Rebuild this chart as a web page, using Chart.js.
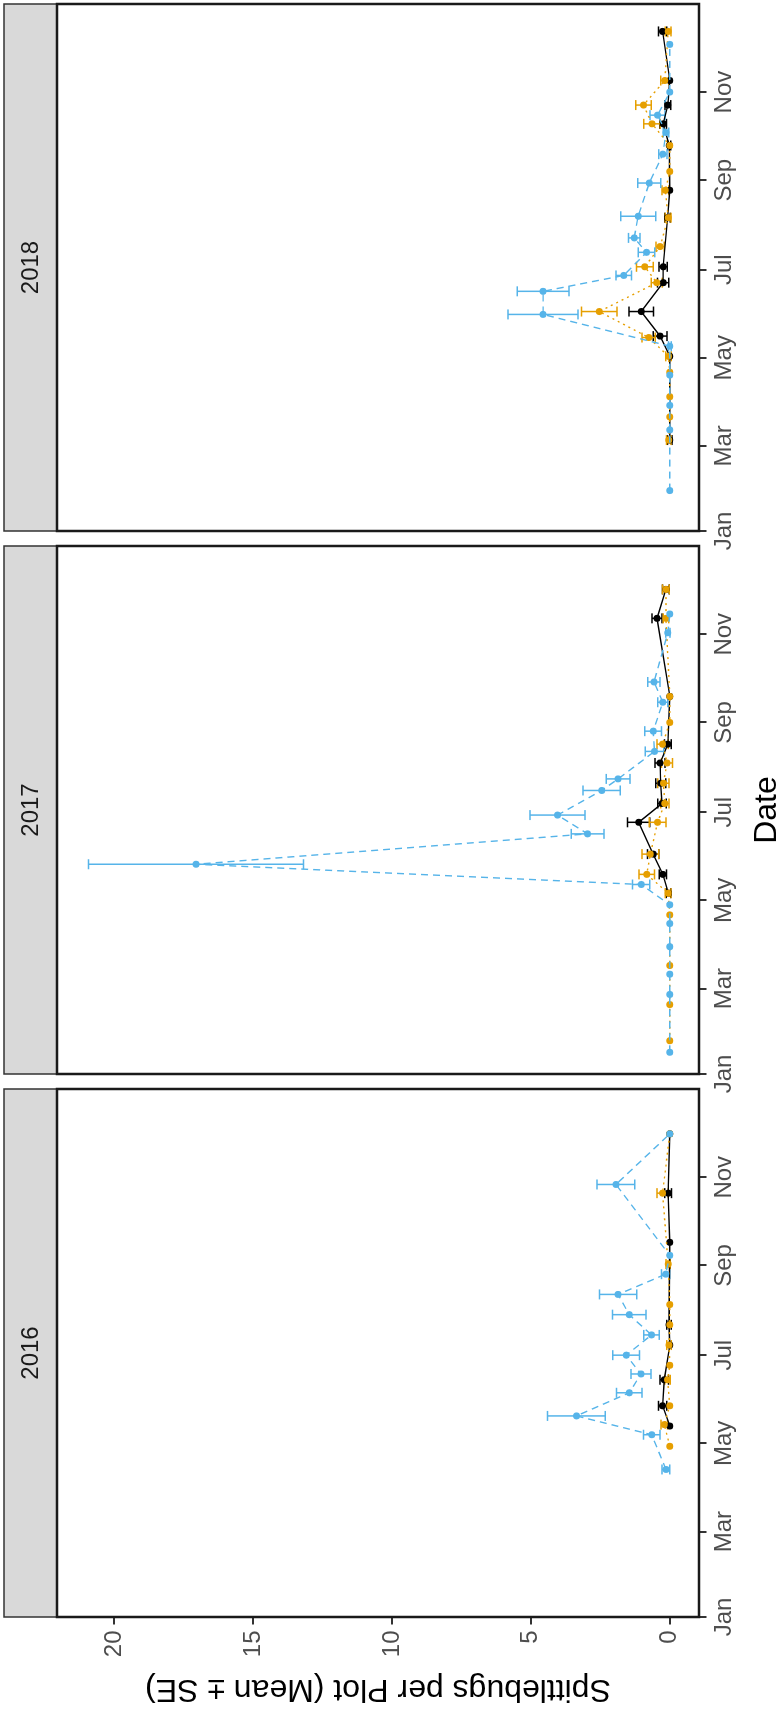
<!DOCTYPE html>
<html lang="en">
<head>
<meta charset="UTF-8">
<title>Spittlebugs per Plot 2016-2018</title>
<style>
  html, body { margin: 0; padding: 0; background: #fff; overflow: hidden; }
  body { width: 781px; height: 1711px; position: relative; }
  /* the figure is laid out landscape and turned a quarter turn */
  #plot {
    position: absolute; left: 0; top: 0;
    width: 1711px; height: 781px;
    transform-origin: 0 0;
    transform: translate(0, 1711px) rotate(-90deg);
  }
  #plot canvas { position: absolute; left: 0; top: 0; }
</style>
<script src="https://cdn.jsdelivr.net/npm/chart.js"></script>
</head>
<body>
<div id="plot">
  <canvas id="c2016" width="1711" height="781"></canvas>
  <canvas id="c2017" width="1711" height="781"></canvas>
  <canvas id="c2018" width="1711" height="781"></canvas>
</div>
<script>
// x values are day of year (0 = Jan 1)
const monthDays = [0, 59, 120, 181, 243, 304];
const monthLabels = ['Jan', 'Mar', 'May', 'Jul', 'Sep', 'Nov'];
const yTicks = [0, 5, 10, 15, 20];
const years = ['2016', '2017', '2018'];

// 2016
const day16Blue = [102, 126, 139, 155, 168, 181, 195, 209, 223, 237, 250, 299, 334];
const mean16Blue = [0.14, 0.65, 3.36, 1.46, 1.04, 1.57, 0.66, 1.46, 1.86, 0.15, 0, 1.94, 0];
const se16Blue = [0.14, 0.3, 1.04, 0.46, 0.36, 0.48, 0.28, 0.6, 0.67, 0.15, 0, 0.68, 0];
const day16Orange = [118, 133, 146, 164, 174, 188, 202, 216, 244, 293, 334];
const mean16Orange = [0, 0.2, 0, 0.08, 0, 0.03, 0, 0, 0.06, 0.26, 0];
const se16Orange = [0, 0.12, 0, 0.1, 0, 0.08, 0, 0, 0.08, 0.2, 0];
const day16Black = [132, 146, 164, 188, 202, 259, 293, 334];
const mean16Black = [0, 0.26, 0.2, 0, 0.03, 0, 0.06, 0];
const se16Black = [0, 0.15, 0.15, 0, 0.08, 0, 0.12, 0];

// 2017
const day17Blue = [15, 55, 69, 88, 104, 117, 131, 145, 166, 179, 196, 204, 223, 237, 257, 271, 305, 318];
const mean17Blue = [0, 0, 0, 0, 0, 0, 1.03, 17.05, 2.96, 4.04, 2.45, 1.86, 0.55, 0.6, 0.25, 0.57, 0.07, 0];
const se17Blue = [0, 0, 0, 0, 0, 0, 0.31, 3.87, 0.59, 0.99, 0.67, 0.43, 0.33, 0.3, 0.18, 0.22, 0.08, 0];
const day17Orange = [23, 48, 75, 110, 125, 138, 152, 174, 187, 201, 215, 228, 243, 261, 315, 335];
const mean17Orange = [0, 0, 0, 0, 0.06, 0.83, 0.7, 0.44, 0.18, 0.23, 0.1, 0.26, 0, 0, 0.14, 0.14];
const se17Orange = [0, 0, 0, 0, 0.1, 0.28, 0.3, 0.3, 0.15, 0.2, 0.2, 0.2, 0, 0, 0.1, 0.12];
const day17Black = [125, 138, 152, 174, 187, 201, 215, 228, 261, 315, 335];
const mean17Black = [0.05, 0.25, 0.6, 1.12, 0.28, 0.33, 0.35, 0.07, 0, 0.46, 0.14];
const se17Black = [0.08, 0.13, 0.2, 0.4, 0.15, 0.18, 0.18, 0.12, 0, 0.18, 0.12];

// 2018
const day18Blue = [28, 70, 87, 108, 128, 150, 166, 177, 193, 203, 218, 241, 261, 276, 288, 304, 337];
const mean18Blue = [0, 0, 0, 0, 0, 4.56, 4.56, 1.66, 0.84, 1.28, 1.14, 0.74, 0.25, 0.14, 0.44, 0, 0];
const se18Blue = [0, 0, 0, 0, 0.05, 1.26, 0.93, 0.28, 0.3, 0.21, 0.63, 0.41, 0.15, 0.1, 0.27, 0, 0];
const day18Orange = [63, 79, 93, 110, 121, 134, 152, 172, 183, 197, 217, 236, 249, 267, 282, 295, 312, 346];
const mean18Orange = [0.04, 0, 0, 0, 0.05, 0.76, 2.54, 0.47, 0.9, 0.35, 0.06, 0.16, 0, 0, 0.64, 0.95, 0.18, 0.06];
const se18Orange = [0.08, 0, 0, 0, 0.1, 0.24, 0.64, 0.2, 0.3, 0.15, 0.1, 0.12, 0, 0, 0.3, 0.28, 0.15, 0.1];
const day18Black = [63, 121, 135, 152, 172, 183, 217, 236, 267, 282, 295, 312, 346];
const mean18Black = [0, 0, 0.35, 1.03, 0.24, 0.24, 0.08, 0, 0.02, 0.24, 0.07, 0, 0.26];
const se18Black = [0.08, 0, 0.25, 0.44, 0.2, 0.15, 0.1, 0, 0.05, 0.12, 0.1, 0, 0.15];

const seriesStyle = {
  black:  { color: '#000000', dash: [] },
  orange: { color: '#E69F00', dash: [2, 4] },
  blue:   { color: '#56B4E9', dash: [7, 5] }
};

Chart.defaults.font.family = '"Liberation Sans", Arial, sans-serif';

function series(name, days, means, ses) {
  const st = seriesStyle[name];
  return {
    label: name,
    data: days.map((d, i) => ({ x: d, y: means[i] })),
    se: ses,
    showLine: true,
    borderColor: st.color,
    backgroundColor: st.color,
    borderDash: st.dash,
    borderWidth: 1.4,
    pointRadius: 3.5,
    pointBorderWidth: 0,
    pointBackgroundColor: st.color,
    tension: 0
  };
}

// error bars, facet strip and panel frame
const facetPlugin = {
  id: 'facet',
  beforeDatasetsDraw(chart) {
    const { ctx, scales: { x, y } } = chart;
    ctx.save();
    ctx.lineWidth = 1.5;
    // last dataset first so the first one ends up on top
    chart.data.datasets.slice().reverse().forEach(ds => {
      ctx.strokeStyle = ds.borderColor;
      ds.data.forEach((p, i) => {
        const s = ds.se[i];
        if (!s) return;
        const px = x.getPixelForValue(p.x);
        const lo = y.getPixelForValue(p.y - s);
        const hi = y.getPixelForValue(p.y + s);
        ctx.beginPath();
        ctx.moveTo(px, lo); ctx.lineTo(px, hi);
        ctx.moveTo(px - 5, lo); ctx.lineTo(px + 5, lo);
        ctx.moveTo(px - 5, hi); ctx.lineTo(px + 5, hi);
        ctx.stroke();
      });
    });
    ctx.restore();
  },
  afterDraw(chart, args, opts) {
    const { ctx, chartArea: a } = chart;
    ctx.save();
    ctx.fillStyle = '#d9d9d9';
    ctx.fillRect(a.left, 4, a.width, a.top - 4);
    ctx.strokeStyle = '#333333';
    ctx.lineWidth = 1.5;
    ctx.strokeRect(a.left, 4, a.width, a.top - 4);
    ctx.fillStyle = '#1a1a1a';
    ctx.font = '24px "Liberation Sans", Arial, sans-serif';
    ctx.textAlign = 'center';
    ctx.textBaseline = 'middle';
    ctx.fillText(opts.label, (a.left + a.right) / 2, (4 + a.top) / 2 + 1);
    ctx.strokeStyle = '#1a1a1a';
    ctx.lineWidth = 2.5;
    ctx.strokeRect(a.left, a.top, a.width, a.height);
    ctx.restore();
  }
};

const panelLeft = [94, 637, 1180];
const panelWidth = 528;

function makeFacet(idx, datasets) {
  const first = idx === 0;
  const left = panelLeft[idx];
  return new Chart(document.getElementById('c' + years[idx]), {
    type: 'scatter',
    data: { datasets: datasets },
    options: {
      responsive: false,
      animation: false,
      devicePixelRatio: 1,
      events: [],
      layout: {
        padding: { left: first ? 0 : left, right: 1711 - left - panelWidth, top: 57, bottom: 0 }
      },
      plugins: {
        legend: { display: false },
        tooltip: { enabled: false },
        facet: { label: years[idx] }
      },
      scales: {
        x: {
          type: 'linear',
          min: 0,
          max: 365,
          afterBuildTicks: s => { s.ticks = monthDays.map(v => ({ value: v })); },
          afterFit: s => { s.height = 82; s.paddingLeft = 0; s.paddingRight = 0; },
          grid: { drawOnChartArea: false, tickLength: 7.5, color: '#333333', lineWidth: 2 },
          border: { display: false },
          ticks: {
            font: { size: 24 },
            color: '#4d4d4d',
            padding: 3,
            maxRotation: 0,
            autoSkip: false,
            callback: v => monthLabels[monthDays.indexOf(v)]
          },
          title: {
            display: idx === 1,
            text: 'Date',
            color: '#000000',
            font: { size: 32, lineHeight: 0.85 },
            padding: 0
          }
        },
        y: {
          type: 'linear',
          display: first,
          min: -1.05,
          max: 22.05,
          afterBuildTicks: s => { s.ticks = yTicks.map(v => ({ value: v })); },
          afterFit: s => { if (first) s.width = 94; s.paddingTop = 0; s.paddingBottom = 0; },
          grid: { drawOnChartArea: false, tickLength: 7.5, color: '#333333', lineWidth: 2 },
          border: { display: false },
          ticks: { font: { size: 24 }, color: '#4d4d4d', padding: 6 },
          title: {
            display: first,
            text: 'Spittlebugs per Plot (Mean ± SE)',
            color: '#000000',
            font: { size: 32 },
            padding: { top: 3, bottom: 0 }
          }
        }
      }
    },
    plugins: [facetPlugin]
  });
}

// first dataset is drawn on top
makeFacet(0, [
  series('blue', day16Blue, mean16Blue, se16Blue),
  series('orange', day16Orange, mean16Orange, se16Orange),
  series('black', day16Black, mean16Black, se16Black)
]);
makeFacet(1, [
  series('blue', day17Blue, mean17Blue, se17Blue),
  series('orange', day17Orange, mean17Orange, se17Orange),
  series('black', day17Black, mean17Black, se17Black)
]);
makeFacet(2, [
  series('blue', day18Blue, mean18Blue, se18Blue),
  series('orange', day18Orange, mean18Orange, se18Orange),
  series('black', day18Black, mean18Black, se18Black)
]);
</script>
</body>
</html>
